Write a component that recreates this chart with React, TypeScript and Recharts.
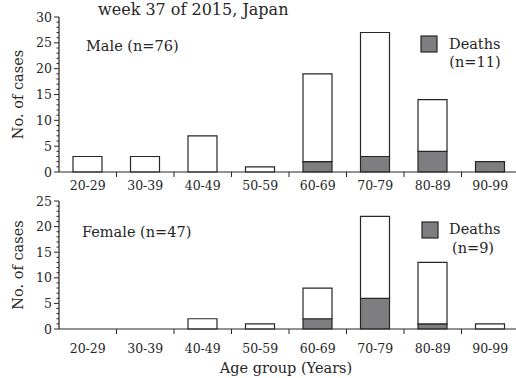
import { BarChart, Bar, XAxis, YAxis } from 'recharts';

const ageGroups = ['20-29', '30-39', '40-49', '50-59', '60-69', '70-79', '80-89', '90-99'];
const maleCases = [3, 3, 7, 1, 19, 27, 14, 2];
const maleDeaths = [0, 0, 0, 0, 2, 3, 4, 2];
const femaleCases = [0, 0, 2, 1, 8, 22, 13, 1];
const femaleDeaths = [0, 0, 0, 0, 2, 6, 1, 0];
const maleMax = 30;
const femaleMax = 25;

const INK = '#262626';
const GREY = '#7e7e80';
const FONT = '"DejaVu Serif", serif';

// layout shared by both panels
const CHART_W = 520;
const Y_AXIS_W = 59;
const RIGHT = 1;
const BAND = (CHART_W - Y_AXIS_W - RIGHT) / ageGroups.length;

const rows = (cases: number[], deaths: number[]) =>
    ageGroups.map((age, i) => ({ age, deaths: deaths[i], survived: cases[i] - deaths[i] }));

const maleData = rows(maleCases, maleDeaths);
const femaleData = rows(femaleCases, femaleDeaths);

// every integer gets a minor tick, multiples of 5 get a label
const unitTicks = (max: number) => Array.from({ length: max + 1 }, (_, i) => i);

function YTick(props: any) {
    const { x, y, payload } = props;
    const major = payload.value % 5 === 0;
    return (
        <g>
            <line x1={x - (major ? 5 : 2.5)} x2={x} y1={y} y2={y} stroke={INK} strokeWidth={1} />
            {major && (
                <text x={x - 7} y={y} dy="0.36em" textAnchor="end" fontSize={12.5} fontFamily={FONT} fill={INK}>
                    {payload.value}
                </text>
            )}
        </g>
    );
}

const makeXTick = (labelOffset: number) => (props: any) => {
    const { x, y, payload, index } = props;
    return (
        <g>
            {index > 0 && <line x1={x - BAND / 2} x2={x - BAND / 2} y1={y} y2={y + 5} stroke={INK} strokeWidth={1} />}
            <text x={x} y={y + labelOffset} textAnchor="middle" fontSize={12.5} fontFamily={FONT} fill={INK}>
                {payload.value}
            </text>
        </g>
    );
};

function Panel({ data, max, top, plotH, xAxisH, labelOffset }: any) {
    return (
        <div style={{ position: 'absolute', left: 0, top }}>
            <BarChart
                width={CHART_W}
                height={17 + plotH + xAxisH}
                data={data}
                margin={{ top: 17, right: RIGHT, left: 0, bottom: 0 }}
                barSize={29}
            >
                <XAxis
                    dataKey="age"
                    interval={0}
                    tickSize={0}
                    tickMargin={0}
                    height={xAxisH}
                    axisLine={{ stroke: INK, strokeWidth: 1.2 }}
                    tickLine={false}
                    tick={makeXTick(labelOffset)}
                />
                <YAxis
                    type="number"
                    domain={[0, max]}
                    ticks={unitTicks(max)}
                    interval={0}
                    width={Y_AXIS_W}
                    tickSize={0}
                    tickMargin={0}
                    axisLine={{ stroke: INK, strokeWidth: 1.2 }}
                    tickLine={false}
                    tick={<YTick />}
                />
                <Bar dataKey="deaths" stackId="a" fill={GREY} stroke={INK} strokeWidth={1.2} isAnimationActive={false} />
                <Bar dataKey="survived" stackId="a" fill="#ffffff" stroke={INK} strokeWidth={1.2} isAnimationActive={false} />
            </BarChart>
        </div>
    );
}

export default function App() {
    const txt = { fontFamily: FONT, fill: INK };
    return (
        <div style={{ position: 'absolute', left: 0, top: 0, width: 516, height: 378, overflow: 'hidden', background: '#fff' }}>
            <Panel data={maleData} max={maleMax} top={0} plotH={155} xAxisH={28} labelOffset={18} />
            <Panel data={femaleData} max={femaleMax} top={184} plotH={128} xAxisH={40} labelOffset={24} />
            <svg width={516} height={378} style={{ position: 'absolute', left: 0, top: 0, pointerEvents: 'none' }}>
                <text x={98} y={15} fontSize={16} {...txt}>week 37 of 2015, Japan</text>

                <text transform="translate(23,94.5) rotate(-90)" textAnchor="middle" fontSize={14.5} {...txt}>No. of cases</text>
                <text transform="translate(23,265) rotate(-90)" textAnchor="middle" fontSize={14.5} {...txt}>No. of cases</text>

                <text x={86} y={51} fontSize={14.5} {...txt}>Male (n=76)</text>
                <rect x={421} y={36} width={16} height={16} fill={GREY} stroke={INK} strokeWidth={1.2} />
                <text x={449} y={49} fontSize={14.5} {...txt}>Deaths</text>
                <text x={475} y={67} fontSize={14.5} textAnchor="middle" {...txt}>(n=11)</text>

                <text x={82} y={237} fontSize={14.5} {...txt}>Female (n=47)</text>
                <rect x={422} y={222} width={16} height={16} fill={GREY} stroke={INK} strokeWidth={1.2} />
                <text x={449} y={234} fontSize={14.5} {...txt}>Deaths</text>
                <text x={473} y={253} fontSize={14.5} textAnchor="middle" {...txt}>(n=9)</text>

                <text x={286} y={373} fontSize={14.5} textAnchor="middle" {...txt}>Age group (Years)</text>
            </svg>
        </div>
    );
}
